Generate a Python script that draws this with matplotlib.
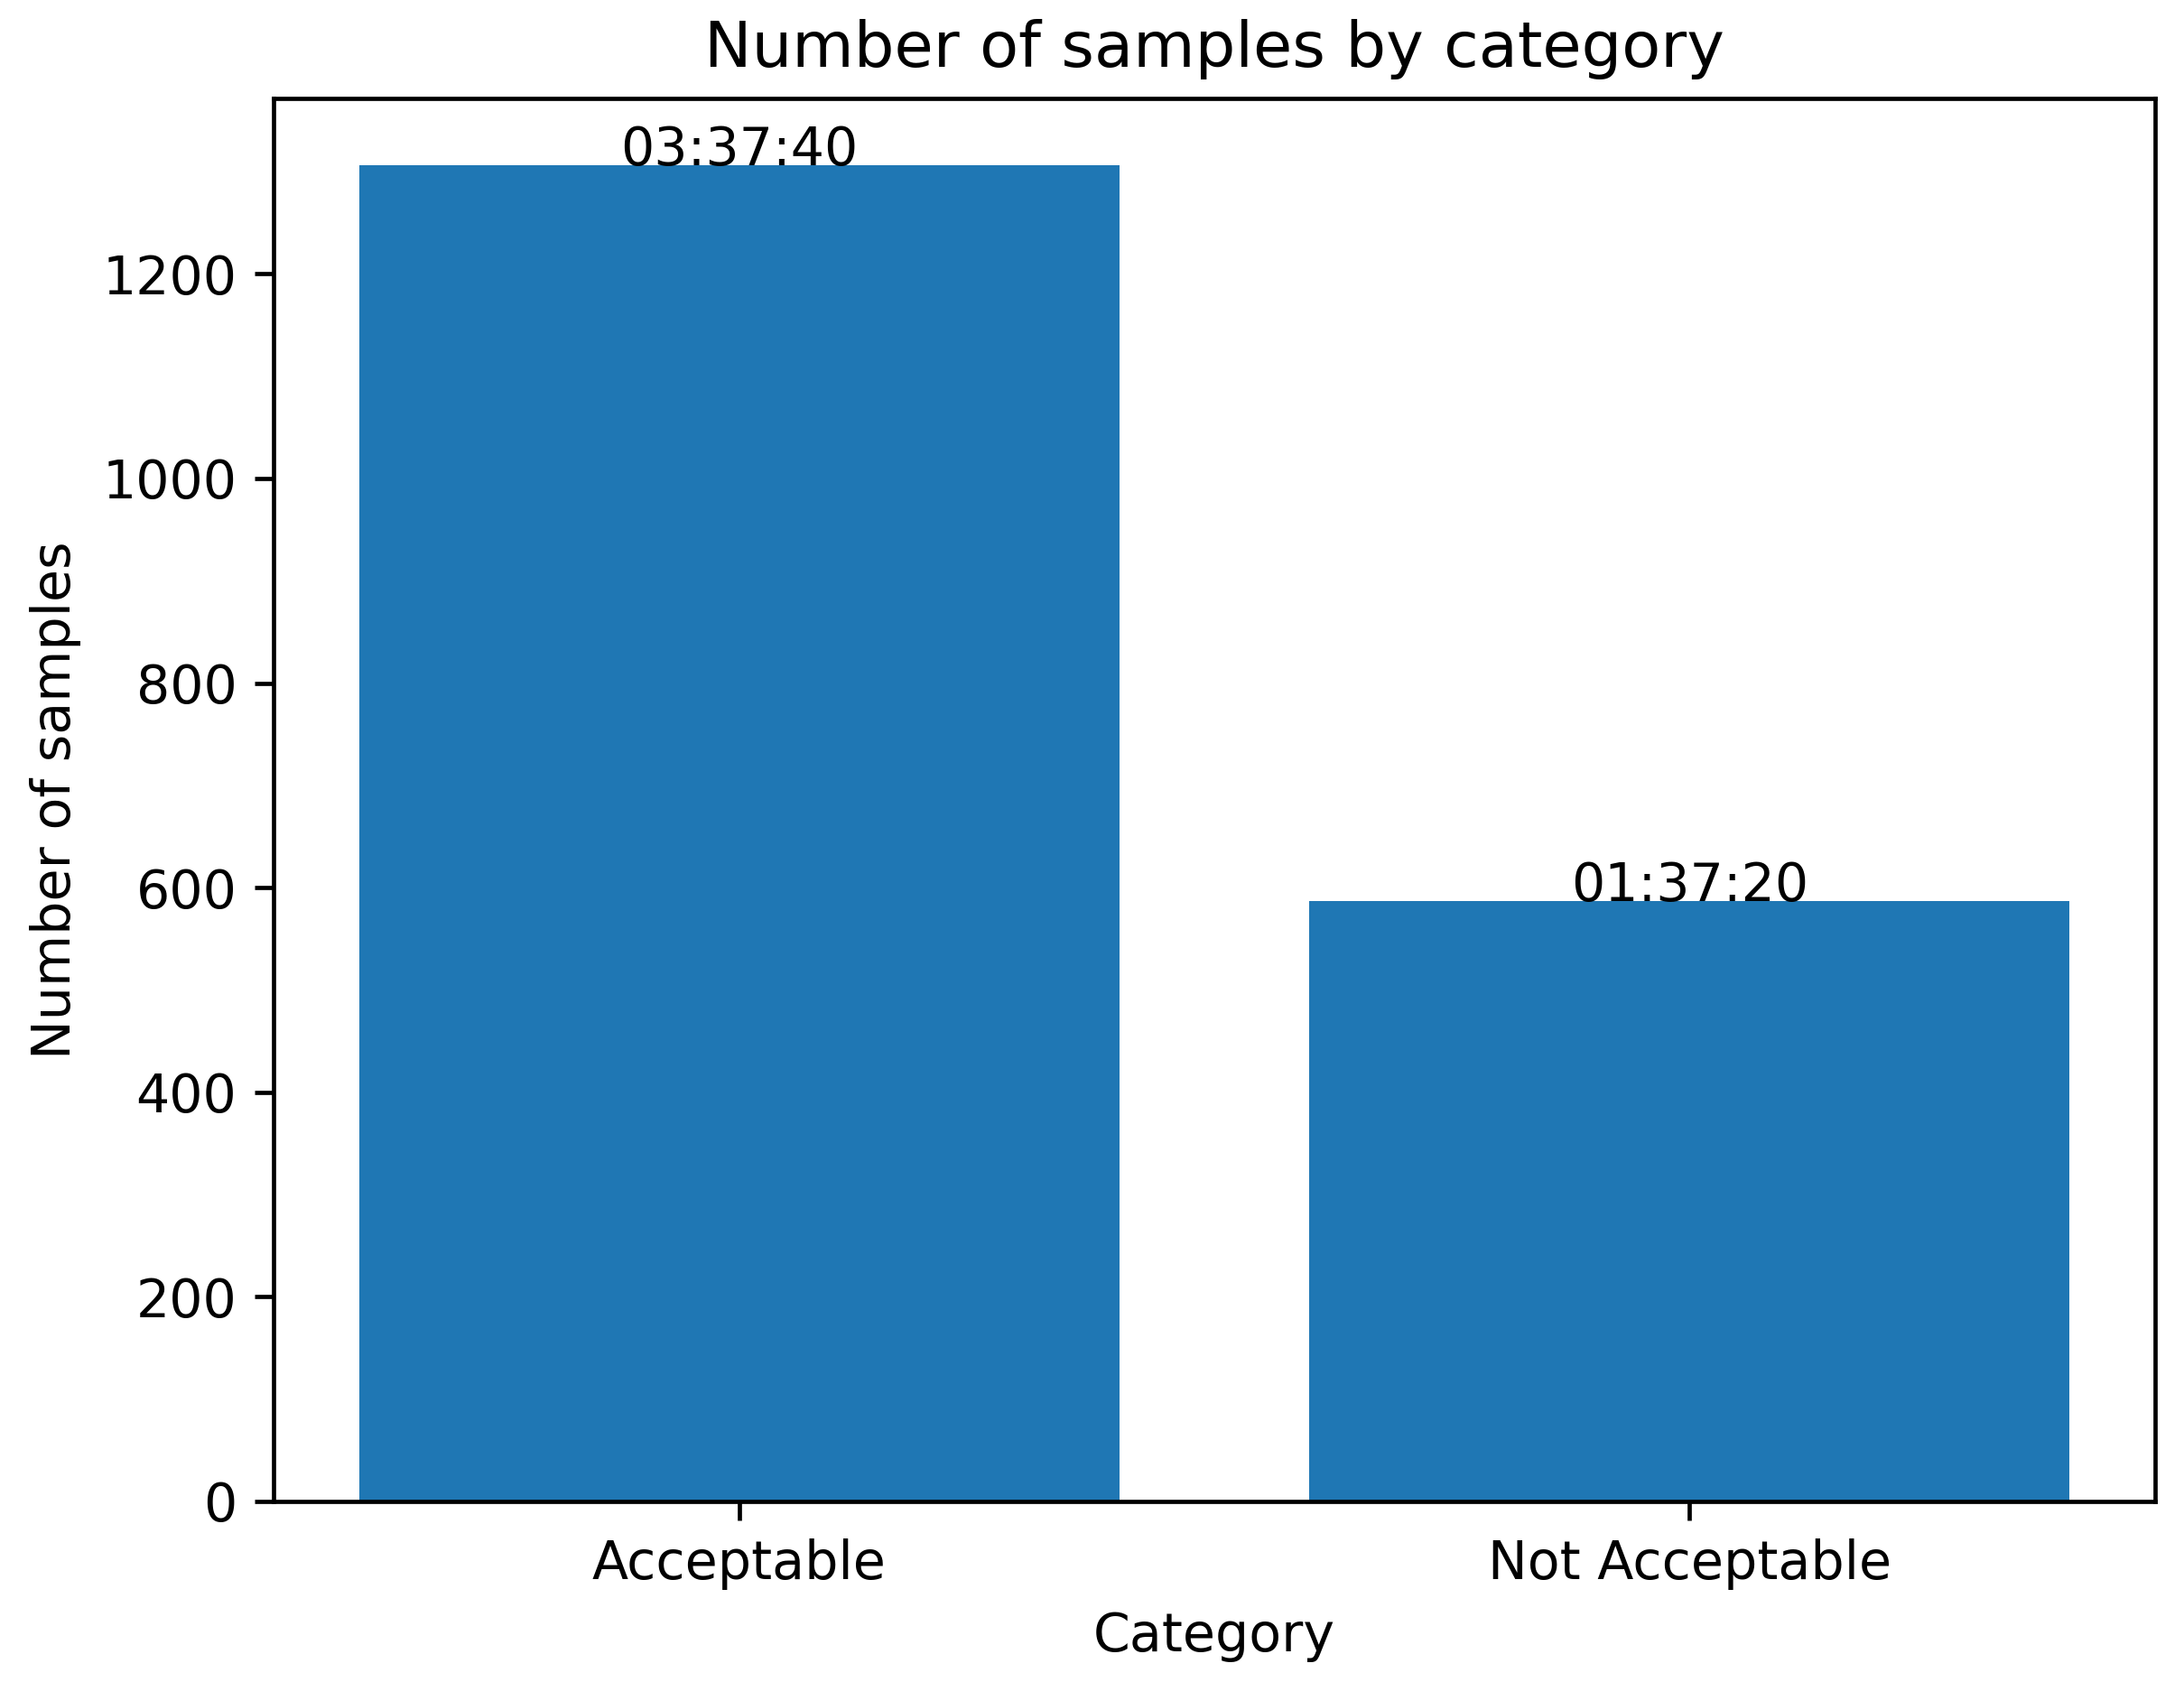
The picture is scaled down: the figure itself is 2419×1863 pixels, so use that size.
import matplotlib
matplotlib.use('Agg')
import matplotlib.pyplot as plt

# data
categories = ['Acceptable', 'Not Acceptable']
counts = [1306, 587]
durations = ['03:37:40', '01:37:20']

dpi = 422
fig = plt.figure(figsize=(2419 / dpi, 1863 / dpi), dpi=dpi)
ax = fig.add_axes([0.1254, 0.1075, 0.8613, 0.8338])

ax.bar(categories, counts, color='#1f77b4')
for i, v in enumerate(counts):
    ax.text(i, v, durations[i], ha='center')

ax.set_title('Number of samples by category')
ax.set_xlabel('Category')
ax.set_ylabel('Number of samples')

fig.savefig('out.png', dpi=dpi)
